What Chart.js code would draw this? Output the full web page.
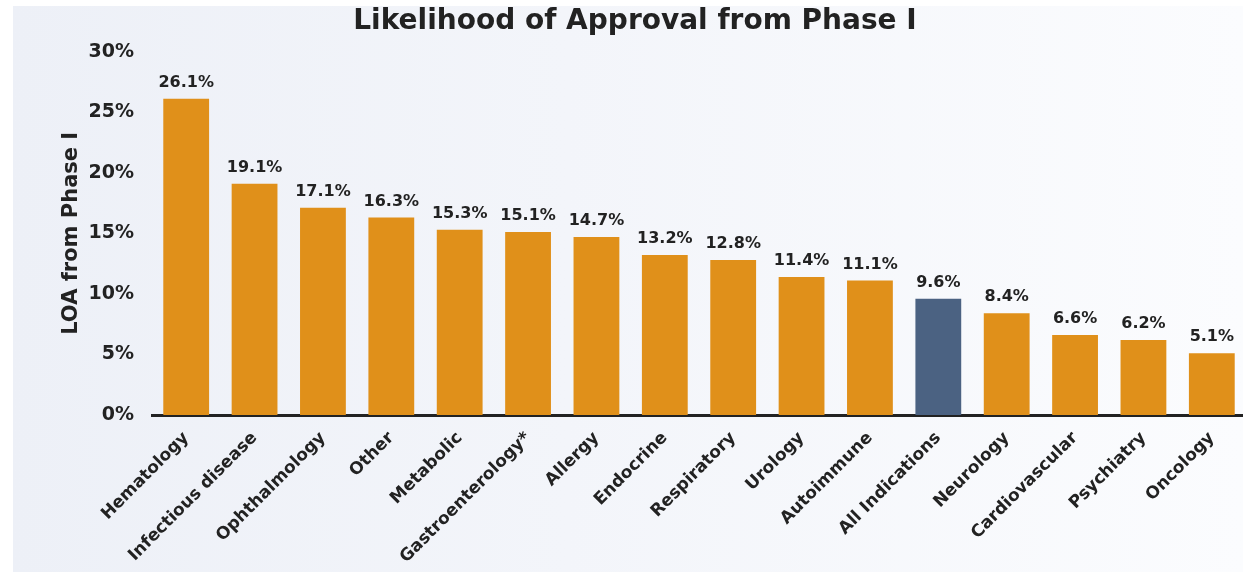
<!DOCTYPE html>
<html>
<head>
<meta charset="utf-8">
<script src="https://cdn.jsdelivr.net/npm/chart.js@4.4.1/dist/chart.umd.min.js"></script>
<style>
  html, body { margin: 0; padding: 0; overflow: hidden; background: #ffffff; }
  #wrap { position: relative; width: 1243px; height: 572px; overflow: hidden; }
  #bg {
    position: absolute; left: 13px; top: 6px; right: 0; bottom: 0;
    background: linear-gradient(to right, #edf0f7 0%, #f3f5fa 45%, #fbfcfe 100%);
  }
  #chart { position: absolute; left: 0; top: 0; }
</style>
</head>
<body>
<div id="wrap">
  <div id="bg"></div>
  <canvas id="chart" width="1250" height="572"></canvas>
</div>
<script>
// Likelihood of approval from Phase I, by therapeutic area
const categories = ['Hematology', 'Infectious disease', 'Ophthalmology', 'Other', 'Metabolic',
    'Gastroenterology*', 'Allergy', 'Endocrine', 'Respiratory', 'Urology', 'Autoimmune',
    'All Indications', 'Neurology', 'Cardiovascular', 'Psychiatry', 'Oncology'];
const loaValues = [26.1, 19.1, 17.1, 16.3, 15.3, 15.1, 14.7, 13.2, 12.8, 11.4, 11.1, 9.6, 8.4, 6.6, 6.2, 5.1];
const yTicks = [0, 5, 10, 15, 20, 25, 30];

const ORANGE = '#e0901a';
const SLATE = '#4b6282';
const INK = '#222222';
const FONT = "'DejaVu Sans', Verdana, sans-serif";

const barColors = categories.map(c => c === 'All Indications' ? SLATE : ORANGE);

// value labels above each bar
const valueLabels = {
    id: 'valueLabels',
    afterDatasetsDraw(chart) {
        const ctx = chart.ctx;
        const meta = chart.getDatasetMeta(0);
        ctx.save();
        ctx.font = 'bold 16px ' + FONT;
        ctx.fillStyle = INK;
        ctx.textAlign = 'center';
        ctx.textBaseline = 'bottom';
        meta.data.forEach((bar, i) => {
            ctx.fillText(loaValues[i].toFixed(1) + '%', bar.x, bar.y - 8);
        });
        ctx.restore();
    }
};

new Chart(document.getElementById('chart'), {
    type: 'bar',
    data: {
        labels: categories,
        datasets: [{
            data: loaValues,
            backgroundColor: barColors,
            borderWidth: 0,
            barPercentage: 0.67,
            categoryPercentage: 1
        }]
    },
    options: {
        responsive: false,
        animation: false,
        layout: { padding: { left: 24, right: 4, top: 0, bottom: 0 } },
        plugins: {
            legend: { display: false },
            tooltip: { enabled: false },
            title: {
                display: true,
                text: 'Likelihood of Approval from Phase I',
                color: INK,
                font: { family: FONT, size: 28, weight: 'bold' },
                padding: { top: 5, bottom: 13 }
            }
        },
        scales: {
            x: {
                grid: { display: false },
                border: { display: true, color: INK, width: 3 },
                ticks: {
                    autoSkip: false,
                    maxRotation: 45,
                    minRotation: 45,
                    padding: 5,
                    color: INK,
                    font: { family: FONT, size: 17, weight: 'bold' }
                },
                afterFit(scale) { scale.height = 157; }
            },
            y: {
                min: 0,
                max: 30,
                grid: { display: false },
                border: { display: false },
                afterBuildTicks(scale) { scale.ticks = yTicks.map(v => ({ value: v })); },
                ticks: {
                    padding: 10,
                    color: INK,
                    font: { family: FONT, size: 19, weight: 'bold' },
                    callback: v => v + '%'
                },
                title: {
                    display: true,
                    text: 'LOA from Phase I',
                    color: INK,
                    font: { family: FONT, size: 21, weight: 'bold' },
                    padding: { top: 35, bottom: 0 }
                },
                afterFit(scale) { scale.width = 128; }
            }
        }
    },
    plugins: [valueLabels]
});
</script>
</body>
</html>
